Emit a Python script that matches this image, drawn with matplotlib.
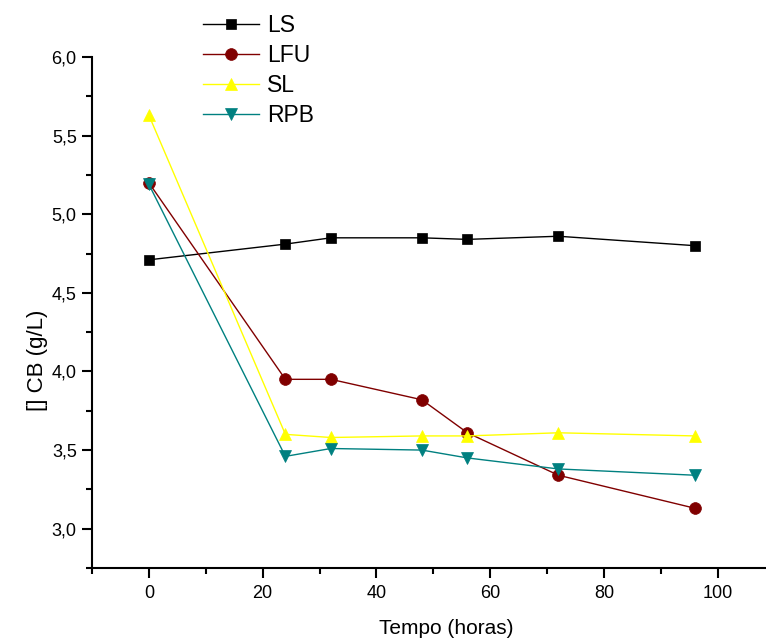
import matplotlib
matplotlib.use("Agg")
import matplotlib.pyplot as plt
from matplotlib.ticker import MultipleLocator, FuncFormatter

plt.rcParams['font.family'] = ['Liberation Sans', 'DejaVu Sans']

# Sampling times (h)
tempo = [0, 24, 32, 48, 56, 72, 96]

# Concentration series (g/L)
ls = [4.71, 4.81, 4.85, 4.85, 4.84, 4.86, 4.80]
lfu = [5.20, 3.95, 3.95, 3.82, 3.61, 3.34, 3.13]
sl = [5.63, 3.60, 3.58, 3.59, 3.59, 3.61, 3.59]
rpb = [5.19, 3.46, 3.51, 3.50, 3.45, 3.38, 3.34]

series_names = ["LS", "LFU", "SL", "RPB"]
series_values = [ls, lfu, sl, rpb]

colors = ["#000000", "#800000", "#FFFF00", "#008080"]
markers = ["s", "o", "^", "v"]
msizes = [7.5, 8.5, 9, 9]

fig = plt.figure(figsize=(7.66, 6.41), dpi=100)
ax = fig.add_axes([92 / 766, 73 / 641, 1 - 92 / 766, (568 - 57) / 641])

for name, vals, c, m, ms in zip(series_names, series_values, colors, markers, msizes):
    ax.plot(tempo, vals, color=c, lw=1.0, marker=m, markersize=ms,
            markerfacecolor=c, markeredgecolor=c, markeredgewidth=0.5,
            label=name)

ax.set_xlim(-10, 108.5)
ax.set_ylim(2.75, 6.0)

ax.xaxis.set_major_locator(MultipleLocator(20))
ax.xaxis.set_minor_locator(MultipleLocator(10))
ax.yaxis.set_major_locator(MultipleLocator(0.5))
ax.yaxis.set_minor_locator(MultipleLocator(0.25))

ax.yaxis.set_major_formatter(FuncFormatter(lambda v, p: f"{v:.1f}".replace(".", ",")))
ax.xaxis.set_major_formatter(FuncFormatter(lambda v, p: f"{v:.0f}"))

for side in ("top", "right"):
    ax.spines[side].set_visible(False)
for side in ("left", "bottom"):
    ax.spines[side].set_linewidth(1.5)

ax.tick_params(which="major", direction="out", length=7, width=1.5, labelsize=13)
ax.tick_params(which="minor", direction="out", length=4, width=1.5)
ax.tick_params(axis="x", pad=5)
ax.tick_params(axis="y", pad=4)

ax.set_xlabel("Tempo (horas)", fontsize=15)
ax.set_ylabel("[] CB (g/L)", fontsize=16)
ax.xaxis.set_label_coords((446 - 92) / 674, -(628 - 568) / 511, transform=ax.transAxes)
ax.yaxis.set_label_coords(-(92 - 38) / 674, (568 - 360) / 511, transform=ax.transAxes)
ax.xaxis.label.set_va("center")
ax.yaxis.label.set_va("center")

leg = fig.legend(loc="upper left", bbox_to_anchor=(203 / 766, 1 - 14 / 641),
                 bbox_transform=fig.transFigure, frameon=False, fontsize=16.5,
                 handlelength=2.45, handletextpad=0.35, labelspacing=0.3,
                 borderpad=0, borderaxespad=0)

fig.savefig("out.png", dpi=100)
